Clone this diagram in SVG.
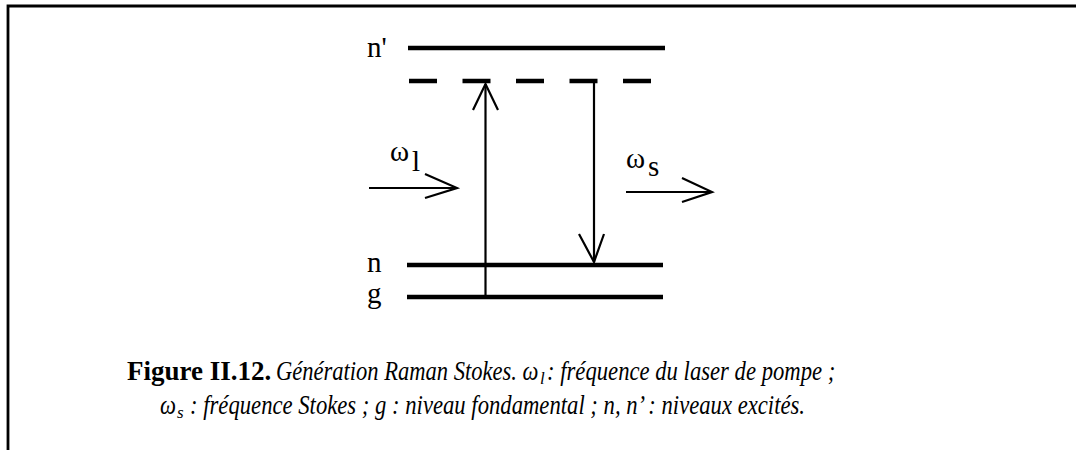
<svg xmlns="http://www.w3.org/2000/svg" width="1076" height="450" viewBox="0 0 1076 450">
<style>
.lvl{stroke:#000;stroke-width:4.5;fill:none}
.dash{stroke:#000;stroke-width:4.5;fill:none;stroke-dasharray:28 25.5}
.arr{stroke:#000;stroke-width:2.2;fill:none}
.lab{font-family:"Liberation Serif","Times New Roman",serif;font-size:29px;fill:#000}
.cap{font-family:"Liberation Serif","Times New Roman",serif;font-size:27px;fill:#000}
.it{font-style:italic}
.sub{font-family:"Liberation Serif","Times New Roman",serif;font-size:17px;font-style:italic;fill:#000}
.frame{stroke:#000;stroke-width:2.8;fill:none}
</style>
<rect width="1076" height="450" fill="#fff"/>
<path class="frame" d="M8,450 V6 H1076"/>
<g id="level-nprime"><line class="lvl" x1="408" y1="48" x2="665" y2="48"/><text class="lab" x="367" y="57">n'</text></g>
<g id="level-virtual"><line class="dash" x1="409" y1="81" x2="665" y2="81"/></g>
<g id="level-n"><line class="lvl" x1="407" y1="265" x2="663" y2="265"/><text class="lab" x="367" y="272">n</text></g>
<g id="level-g"><line class="lvl" x1="407" y1="297" x2="663" y2="297"/><text class="lab" x="367" y="303">g</text></g>
<g id="label-wl"><text class="lab" x="390" y="161" font-size="31">ω</text><text class="lab" x="412" y="171" font-size="20">l</text></g>
<g id="label-ws"><text class="lab" x="626" y="168" font-size="31">ω</text><text class="lab" x="648" y="176" font-size="20">s</text></g>
<g id="connectors">
<line class="arr" x1="485.5" y1="297" x2="485.5" y2="84"/>
<polyline class="arr" points="473,110 485.5,84 498,110"/>
<line class="arr" x1="594" y1="81" x2="594" y2="262"/>
<polyline class="arr" points="579,234 594,262 604,234"/>
<line class="arr" x1="369" y1="188" x2="457" y2="188"/>
<polyline class="arr" points="425,174 457,188 425,198"/>
<line class="arr" x1="626" y1="192" x2="712" y2="192"/>
<polyline class="arr" points="682,178 712,192 682,202"/>
</g>
<g id="caption">
<text class="cap" x="127" y="380" font-weight="bold" font-size="24">Figure II.12.</text>
<text class="cap it" transform="translate(276,380) scale(0.835,1)">Génération Raman Stokes. ω</text>
<text class="sub" x="540" y="384">l</text>
<text class="cap it" transform="translate(547,380) scale(0.84,1)">: fréquence du laser de pompe ;</text>
<text class="cap it" transform="translate(160,414) scale(0.84,1)">ω</text>
<text class="sub" x="177" y="418">s</text>
<text class="cap it" transform="translate(190,414) scale(0.84,1)">: fréquence Stokes ; g : niveau fondamental ; n, n’ : niveaux excités.</text>
</g>
</svg>
